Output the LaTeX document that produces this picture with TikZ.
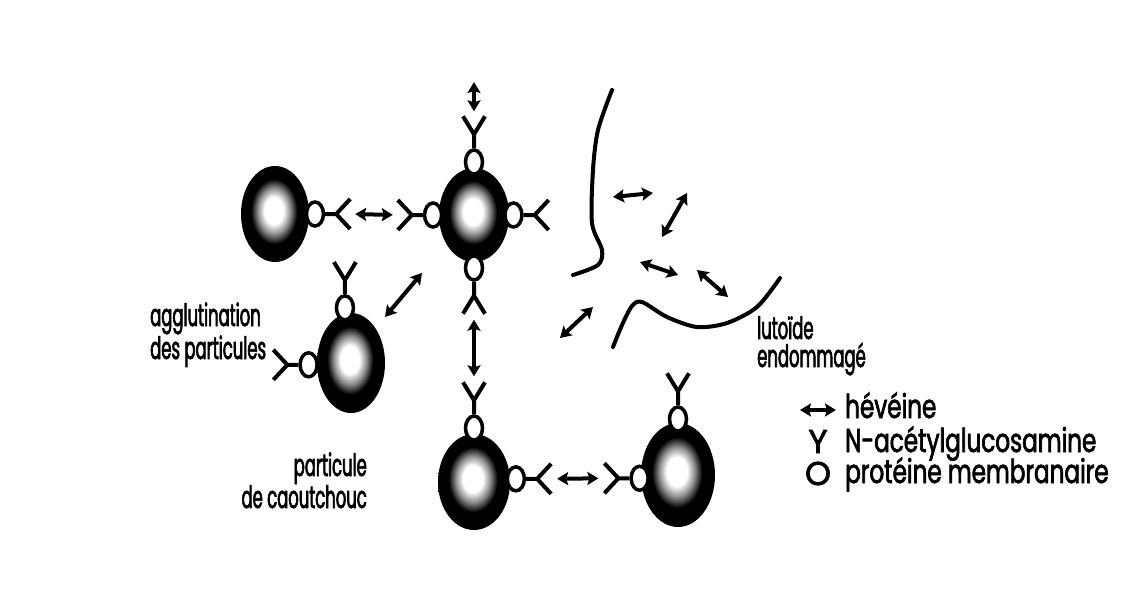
\documentclass[tikz,border=0pt]{standalone}
\usepackage{fontspec}
\setmainfont{Poppins}[FakeStretch=0.7,FakeBold=2]
\newfontfamily\labelfont{Poppins}[FakeStretch=0.53,FakeBold=2]
\newfontfamily\symfont{Poppins}[FakeBold=2]
\usetikzlibrary{positioning,shapes.geometric,arrows.meta}

\pgfdeclareradialshading{latex}{\pgfpoint{-1bp}{2bp}}{color(0bp)=(white); color(7bp)=(white); color(12bp)=(black!45); color(17bp)=(black); color(50bp)=(black)}

\begin{document}
\begin{tikzpicture}[x=1pt,y=-1pt,
  particle/.style={ellipse,inner sep=0pt,shade,shading=latex},
  protein/.style={ellipse,draw,line width=3.5pt,fill=white,inner sep=0pt,minimum width=17pt,minimum height=24pt},
  hev/.style={line width=4pt,{Stealth[length=11pt,width=13pt,inset=2pt]}-{Stealth[length=11pt,width=13pt,inset=2pt]}},
  membrane/.style={line width=4pt,line cap=round},
  lbl/.style={font=\labelfont\fontsize{31}{28}\selectfont,inner sep=0pt},
  key/.style={font=\fontsize{33}{33}\selectfont,inner sep=0pt},
  keysym/.style={font=\symfont\fontsize{33}{33}\selectfont,inner sep=0pt},
  nacv/.pic={\draw[line width=4pt] (0,0) -- (14,0) -- (32,11) (14,0) -- (32,-11); \coordinate (-tip) at (32,0);},
  nach/.pic={\draw[line width=4pt] (0,0) -- (11,0) -- (25,15) (11,0) -- (25,-15); \coordinate (-tip) at (25,0);}
]
\fill[white] (0,0) rectangle (1138,590);
\useasboundingbox (0,0) rectangle (1138,590);

% particules
\node[particle,minimum width=68pt,minimum height=96pt] (L) at (275,214) {};
\node[particle,minimum width=70pt,minimum height=94pt] (C) at (474,215) {};
\node[particle,minimum width=68pt,minimum height=100pt] (M) at (351,363) {};
\node[particle,minimum width=72pt,minimum height=96pt] (B) at (474,482) {};
\node[particle,minimum width=74pt,minimum height=104pt] (R) at (678,475) {};

% proteines
\node[protein,right=-4.5pt of L.east] (Le) {};
\node[protein,above=-8pt of C.north] (Cn) {};
\node[protein,left=-4.5pt of C.west] (Cw) {};
\node[protein,right=-6pt of C.east] (Ce) {};
\node[protein,below=-8pt of C.south] (Cs) {};
\node[protein,above=-8pt of M.97] (Mn) {};
\node[protein,left=-2pt of M.183] (Mw) {};
\node[protein,above=-8pt of B.north] (Bn) {};
\node[protein,right=-4.5pt of B.5] (Be) {};
\node[protein,above=-10pt of R.north] (Rn) {};
\node[protein,left=-9pt of R.185] (Rw) {};

\pic[rotate=90] (yCn) at (Cn.north) {nacv};
\pic[rotate=180] (yCw) at (Cw.west) {nach};
\pic (yCe) at (Ce.east) {nach};
\pic[rotate=-90] (yCs) at (Cs.south) {nacv};
\pic (yLe) at (Le.east) {nach};
\pic[rotate=90] (yMn) at (Mn.north) {nacv};
\pic[rotate=180] (yMw) at (Mw.west) {nach};
\pic[rotate=90] (yBn) at (Bn.north) {nacv};
\pic (yBe) at (Be.east) {nach};
\pic[rotate=90] (yRn) at (Rn.north) {nacv};
\pic[rotate=180] (yRw) at (Rw.west) {nach};

% heveine
\coordinate (top) at (474,82);
\draw[hev,shorten >=5pt] (top) -- (yCn-tip);
\draw[hev,shorten <=5pt,shorten >=5pt] (yLe-tip) -- (yCw-tip);
\draw[hev,shorten <=6pt,shorten >=6pt] (yCs-tip) -- (yBn-tip);
\draw[hev,shorten <=6pt,shorten >=6pt] (yBe-tip) -- (yRw-tip);
\foreach \n/\p/\q in {mc/{385,317}/{422,273}, la/{613,197}/{653,193}, lb/{662,237}/{687,193},
    lc/{640,262}/{678,275}, ld/{697,270}/{728,297}, le/{560,338}/{593,307}} {
  \coordinate (\n1) at (\p);
  \coordinate (\n2) at (\q);
  \draw[hev] (\n1) -- (\n2);
}

% lutoide
\draw[membrane] plot[smooth] coordinates {(612,90) (598,130) (593,170) (592,223) (602,250) (598,265) (573,275)};
\draw[membrane] plot[smooth] coordinates {(613,347) (622,325) (632,306) (642,302) (667,317) (697,327) (727,323) (757,307) (780,278)};

% textes
\node[lbl,align=left,anchor=base west] (agg) at (150,359) {agglutination\\des particules};
\node[lbl,align=right,anchor=base east] (cao) at (367,508) {particule\\de caoutchouc};
\node[lbl,align=left,anchor=base west] (lut) at (757,367) {lutoïde\\endommagé};

% legende
\coordinate (k1) at (800,410);
\coordinate (k2) at (836,410);
\draw[hev] (k1) -- (k2);
\node[key,anchor=base west] (hev) at (845,418) {hévéine};
\node[keysym,anchor=base] (ky) at (818,453) {Y};
\node[key,anchor=base west] (nac) at (845,452) {N-acétylglucosamine};
\node[keysym,anchor=base] (ko) at (818,485) {O};
\node[key,anchor=base west] (prot) at (845,483) {protéine membranaire};
\end{tikzpicture}
\end{document}
